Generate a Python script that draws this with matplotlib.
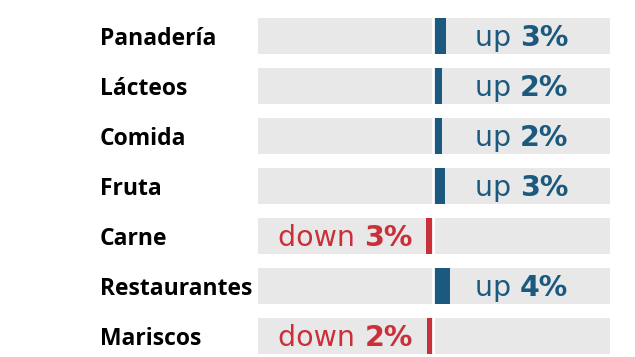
import matplotlib
matplotlib.use("Agg")
import matplotlib.pyplot as plt
import matplotlib.transforms as mtransforms

categories = ["Panadería", "Lácteos", "Comida", "Fruta", "Carne", "Restaurantes", "Mariscos"]
pct_labels = [3, 2, 2, 3, -3, 4, -2]
bar_len = [3.0, 2.1, 2.1, 2.8, -1.6, 4.0, -1.4]

blue = "#1b5a7e"
red = "#c9303a"
grey = "#e8e8e8"
W, H = 635, 357

fig = plt.figure(figsize=(W / 100, H / 100), dpi=100)
ax = fig.add_axes([258 / W, 0, (610 - 258) / W, (357 - 11) / H])
xlim = (-41.2, 41.6)
ax.set_xlim(*xlim)
ax.set_ylim(6.42, -0.5)
ax.axis("off")

ys = list(range(len(categories)))
# grey background bands
ax.barh(ys, xlim[1] - xlim[0], left=xlim[0], height=0.72, color=grey, zorder=1)
ax.barh(ys, bar_len, height=0.72, color=[blue if v > 0 else red for v in bar_len], zorder=2)
ax.axvline(0, color="white", lw=2, zorder=3)

trans = mtransforms.blended_transform_factory(fig.transFigure, ax.transData)
for y, cat in zip(ys, categories):
    ax.text(100 / W, y + 0.06, cat, transform=trans, ha="left", va="center",
            fontsize=16.5, fontweight="bold", family="Open Sans", color="black")

# value labels: word + bold number, pair centred in its half
fig.canvas.draw()
r = fig.canvas.get_renderer()
pairs = []
for y, p in zip(ys, pct_labels):
    col = blue if p > 0 else red
    cx = xlim[1] / 2 if p > 0 else xlim[0] / 2
    t1 = ax.text(cx, y + 0.04, ("up" if p > 0 else "down") + " ", ha="right", va="center",
                 fontsize=20.5, family="DejaVu Sans", color=col, zorder=4)
    t2 = ax.text(cx, y + 0.04, f"{abs(p)}%", ha="left", va="center",
                 fontsize=20.5, family="DejaVu Sans", fontweight="bold", color=col, zorder=4)
    pairs.append((t1, t2, cx))

for t1, t2, cx in pairs:
    w1 = t1.get_window_extent(r).width
    w2 = t2.get_window_extent(r).width
    cx_px = ax.transData.transform((cx, 0))[0]
    split_px = cx_px - (w1 + w2) / 2 + w1
    x_new = ax.transData.inverted().transform((split_px, 0))[0]
    t1.set_x(x_new)
    t2.set_x(x_new)

fig.savefig("out.png", dpi=100)
